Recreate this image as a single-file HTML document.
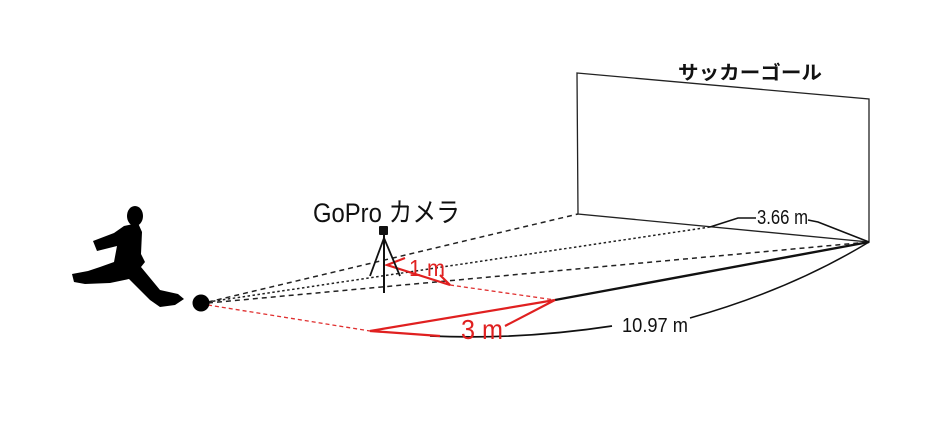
<!DOCTYPE html>
<html><head><meta charset="utf-8"><style>
html,body{margin:0;padding:0;background:#fff;}
svg{display:block}
text{font-family:"Liberation Sans","Noto Sans CJK JP",sans-serif;}
</style></head><body>
<svg width="940" height="426" viewBox="0 0 940 426" xmlns="http://www.w3.org/2000/svg">
<rect width="940" height="426" fill="#fff"/>
<!-- goal -->
<polygon points="577,73 869,99 869,242 578,214" fill="none" stroke="#222" stroke-width="1.3"/>
<text x="678" y="79" font-size="19" font-weight="bold" fill="#111" textLength="144" lengthAdjust="spacingAndGlyphs">サッカーゴール</text>
<!-- guide lines -->
<line x1="208" y1="302" x2="578" y2="214" stroke="#222" stroke-width="1.5" stroke-dasharray="5,4"/>
<line x1="208" y1="302" x2="710" y2="227" stroke="#222" stroke-width="1.5" stroke-dasharray="2.5,2.5"/>
<line x1="208" y1="303" x2="869" y2="242" stroke="#222" stroke-width="1.5" stroke-dasharray="5,4"/>
<line x1="555" y1="300" x2="869" y2="242" stroke="#111" stroke-width="2.4"/>
<!-- 3.66 leader -->
<polyline points="710,227 738,218 756,218" fill="none" stroke="#111" stroke-width="1.5"/>
<text x="757" y="224" font-size="20" fill="#111" textLength="51" lengthAdjust="spacingAndGlyphs">3.66 m</text>
<polyline points="808,220 818,222 869,242" fill="none" stroke="#111" stroke-width="1.6"/>
<!-- 10.97 -->
<path d="M869,242 Q790,290 690,318" fill="none" stroke="#111" stroke-width="1.5"/>
<text x="622" y="332" font-size="20" fill="#111" textLength="66" lengthAdjust="spacingAndGlyphs">10.97 m</text>
<path d="M612,326 Q520,340 430,336" fill="none" stroke="#111" stroke-width="1.7"/>
<!-- red -->
<line x1="208" y1="305" x2="370" y2="331" stroke="#e03030" stroke-width="1.3" stroke-dasharray="4,3"/>
<line x1="450" y1="285" x2="555" y2="300" stroke="#e03030" stroke-width="1.3" stroke-dasharray="4,3"/>
<polyline points="440,336 370,331 555,300 505,326" fill="none" stroke="#e02020" stroke-width="2.2"/>
<text x="461" y="339" font-size="28" fill="#e02020" textLength="42" lengthAdjust="spacingAndGlyphs">3 m</text>
<polyline points="405,258 387,265 450,285 440,275" fill="none" stroke="#e02020" stroke-width="2.2"/>
<text x="409" y="276" font-size="23" fill="#e02020" textLength="36" lengthAdjust="spacingAndGlyphs">1 m</text>
<!-- camera tripod -->
<rect x="379" y="226" width="9" height="9" fill="#111" rx="1"/>
<line x1="384" y1="235" x2="384" y2="293" stroke="#111" stroke-width="2"/>
<line x1="384" y1="238" x2="370" y2="276" stroke="#111" stroke-width="1.8"/>
<line x1="384" y1="238" x2="400" y2="276" stroke="#111" stroke-width="1.8"/>
<text x="313" y="222" font-size="27" fill="#111" textLength="147" lengthAdjust="spacingAndGlyphs">GoPro カメラ</text>
<!-- player -->
<ellipse cx="135" cy="216" rx="8" ry="10" fill="#000"/>
<path d="M93,241 L114,233 L124,226 L138,223 L142,232 L141,254 L145,262 L141,267 L160,290 L178,294 L184,299 L175,305 L160,307 L150,300 L129,279 L110,283 L85,284 L74,282 L72,274 L88,271 L100,267 L114,262 L117,246 L97,251 Z" fill="#000"/>
<circle cx="201" cy="303" r="8.5" fill="#000"/>
</svg>
</body></html>
